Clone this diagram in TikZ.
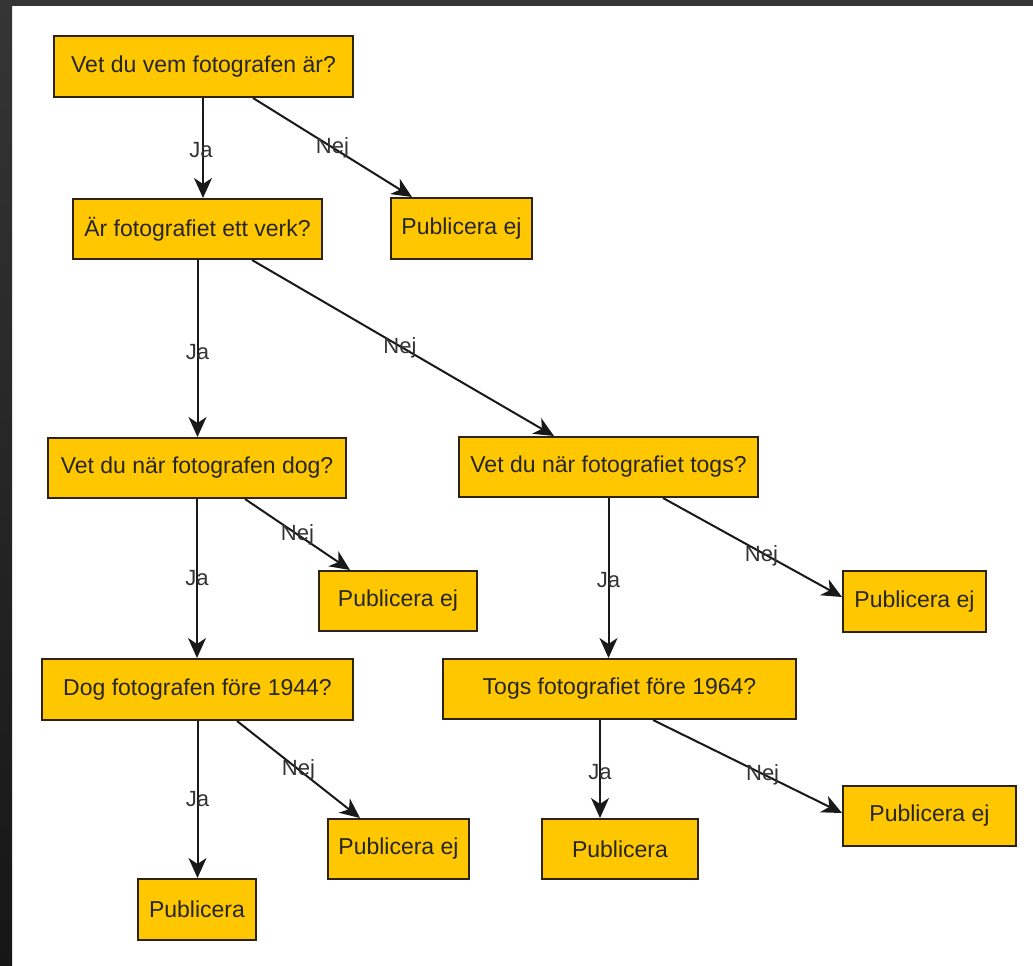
\documentclass[tikz,border=0pt]{standalone}
\usepackage{fontspec}
\setmainfont{Liberation Sans}
\usetikzlibrary{arrows.meta}
\definecolor{boxfill}{RGB}{255,199,0}
\definecolor{boxline}{RGB}{45,35,15}
\definecolor{frametop}{RGB}{53,53,53}
\definecolor{framebot}{RGB}{22,22,22}
\begin{document}
\begin{tikzpicture}[x=1pt,y=-1pt,
  box/.style={draw=boxline, line width=2pt, fill=boxfill, inner sep=0pt,
    minimum height=60pt, font=\fontsize{23}{27}\selectfont, text=black!85},
  conn/.style={line width=2pt, draw=black!90,
    -{Stealth[length=20pt,width=18pt,inset=6pt]}},
  lab/.style={font=\fontsize{22}{26}\selectfont, text=black!80, inner sep=0pt}]
\useasboundingbox (0,0) rectangle (1033,966);
\fill[white] (0,0) rectangle (1033,966);
\shade[top color=frametop, bottom color=framebot] (0,0) rectangle (12,966);
\fill[frametop] (0,0) rectangle (1033,6);

% nodes
\node[box, minimum width=299pt, minimum height=61pt] (q1) at (203.5,66.5) {Vet du vem fotografen är?};
\node[box, minimum width=249pt] (q2) at (197.5,229) {Är fotografiet ett verk?};
\node[box, minimum width=141pt, minimum height=61pt] (n1) at (461.5,228.5) {Publicera ej};
\node[box, minimum width=298pt] (q3) at (197,468) {Vet du när fotografen dog?};
\node[box, minimum width=299pt] (q4) at (608.5,467) {Vet du när fotografiet togs?};
\node[box, minimum width=158pt] (n2) at (398,601) {Publicera ej};
\node[box, minimum width=143pt, minimum height=61pt] (n3) at (914.5,601.5) {Publicera ej};
\node[box, minimum width=311pt, minimum height=61pt] (q5) at (197.5,689.5) {Dog fotografen före 1944?};
\node[box, minimum width=353pt] (q6) at (619.5,689) {Togs fotografiet före 1964?};
\node[box, minimum width=141pt] (n4) at (398.5,849) {Publicera ej};
\node[box, minimum width=173pt] (n5) at (929.5,816) {Publicera ej};
\node[box, minimum width=118pt, minimum height=61pt] (p1) at (197,909.5) {Publicera};
\node[box, minimum width=156pt] (p2) at (620,849) {Publicera};

% connectors
\draw[conn] ([xshift=-0.5pt]q1.south) -- ([xshift=-0.5pt]q1.south |- q2.north)
  node[lab, pos=0.52, xshift=-2pt] {Ja};
\draw[conn] ([xshift=49.5pt]q1.south) -- ([xshift=-49.5pt]n1.north)
  node[lab, pos=0.5] {Nej};
\draw[conn] (q2.south) -- (q2.south |- q3.north)
  node[lab, pos=0.52] {Ja};
\draw[conn] ([xshift=54.5pt]q2.south) -- ([xshift=-54.5pt]q4.north)
  node[lab, pos=0.49, yshift=-2pt] {Nej};
\draw[conn] ([xshift=48pt]q3.south) -- ([xshift=-48pt]n2.north)
  node[lab, pos=0.5] {Nej};
\draw[conn] (q3.south) -- (q3.south |- q5.north)
  node[lab, pos=0.5] {Ja};
\draw[conn] ([xshift=54.5pt]q4.south) -- ([yshift=4.5pt]n3.west)
  node[lab, pos=0.55, yshift=-3pt] {Nej};
\draw[conn] (q4.south) -- (q4.south |- q6.north)
  node[lab, pos=0.51] {Ja};
\draw[conn] (q5.south) -- (q5.south |- p1.north)
  node[lab, pos=0.5] {Ja};
\draw[conn] ([xshift=39.5pt]q5.south) -- ([xshift=-38.5pt]n4.north)
  node[lab, pos=0.5] {Nej};
\draw[conn] ([xshift=-19.5pt]q6.south) -- ([xshift=-19.5pt]q6.south |- p2.north)
  node[lab, pos=0.53] {Ja};
\draw[conn] ([xshift=33.5pt]q6.south) -- ([yshift=3pt]n5.west)
  node[lab, pos=0.58, yshift=-1pt] {Nej};
\end{tikzpicture}
\end{document}
